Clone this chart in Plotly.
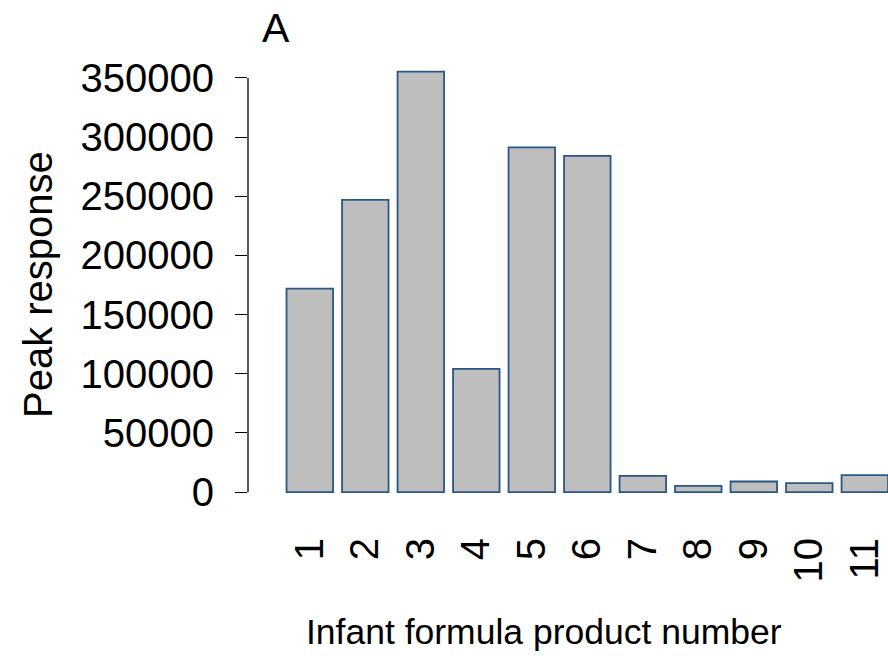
import plotly.graph_objects as go

products = ["1", "2", "3", "4", "5", "6", "7", "8", "9", "10", "11"]
peak_response = [172000, 247000, 355300, 104200, 291300, 284100, 13800, 5300, 9000, 7600, 14400]
y_ticks = [0, 50000, 100000, 150000, 200000, 250000, 300000, 350000]

positions = list(range(1, len(products) + 1))
FONT = "Liberation Sans, Arial, sans-serif"

fig = go.Figure(go.Bar(
    x=positions, y=peak_response,
    marker=dict(color="#BEBEBE", line=dict(color="#2A5785", width=1.8)),
    width=0.838,
))

T, B = 54, 147
PH = 656 - T - B

fig.update_layout(
    width=888, height=656,
    margin=dict(l=248, r=0, t=T, b=B),
    paper_bgcolor="white", plot_bgcolor="white",
    showlegend=False,
    font=dict(family=FONT, size=40, color="black"),
    xaxis=dict(
        range=[-0.1135, 11.418],
        tickmode="array", tickvals=positions, ticktext=products,
        tickangle=-90, showline=False, showgrid=False, zeroline=False,
        ticks="", ticklabelstandoff=20,
        tickfont=dict(size=40),
    ),
    yaxis=dict(
        range=[-14240, 370240],
        tickmode="array", tickvals=y_ticks, ticktext=[str(v) for v in y_ticks],
        showline=False, showgrid=False, zeroline=False,
        ticks="outside", ticklen=12, tickwidth=1.3, tickcolor="black",
        ticklabelstandoff=13,
        tickfont=dict(size=40),
    ),
    shapes=[dict(type="line", xref="paper", yref="y", x0=0, x1=0,
                 y0=y_ticks[0], y1=y_ticks[-1],
                 line=dict(color="black", width=1.3))],
    annotations=[
        dict(text="A", xref="paper", yref="paper", x=(276 - 248) / 640, y=1 + (T - 28) / PH,
             xanchor="center", yanchor="middle", showarrow=False, font=dict(size=41)),
        dict(text="Peak response", xref="paper", yref="paper", x=(38 - 248) / 640, y=(656 - B - 285) / PH,
             xanchor="center", yanchor="middle", textangle=-90, showarrow=False, font=dict(size=40)),
        dict(text="Infant formula product number", xref="paper", yref="paper",
             x=(543.5 - 248) / 640, y=-(632 - (656 - B)) / PH,
             xanchor="center", yanchor="middle", showarrow=False, font=dict(size=35.5)),
    ],
)

fig.write_html("out.html", config={"displayModeBar": False},
               post_script="document.body.style.margin='0';document.body.style.overflow='hidden';")
